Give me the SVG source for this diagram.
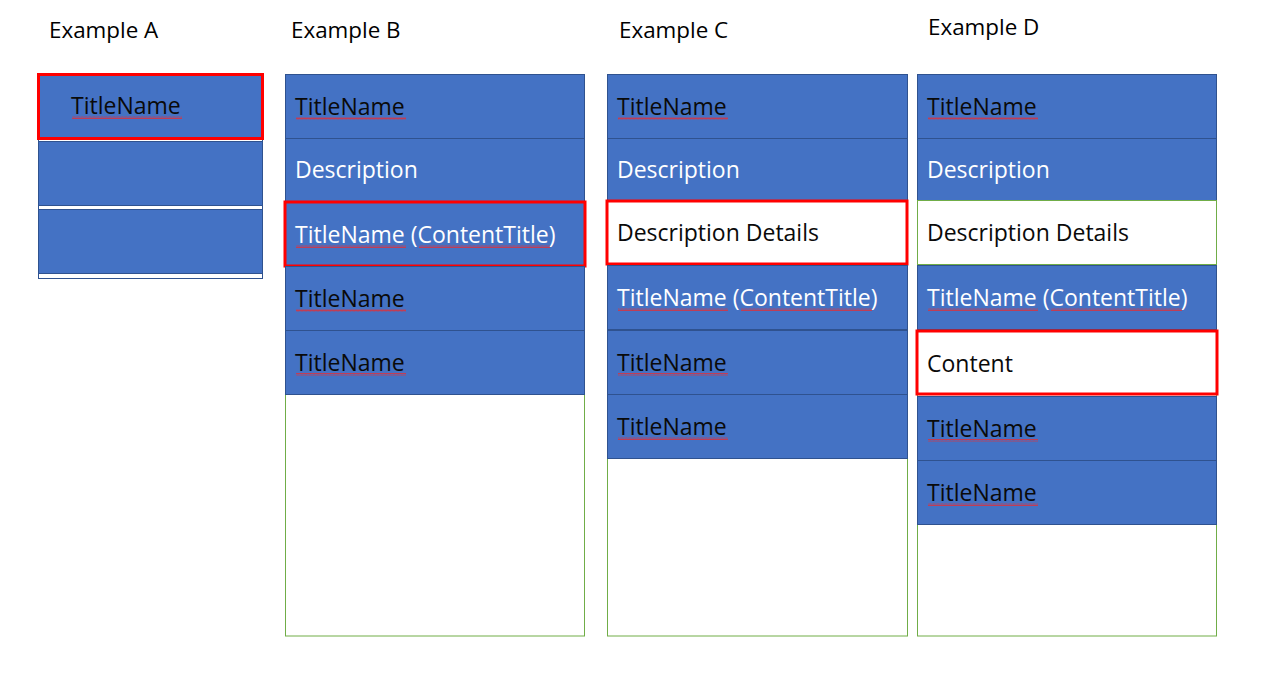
<svg xmlns="http://www.w3.org/2000/svg" width="1285" height="677" viewBox="0 0 1285 677">
<defs>
<pattern id="sq" width="4" height="3" patternUnits="userSpaceOnUse">
<polyline points="0,2.5 1,0.5 2,2.5 3,0.5 4,2.5" fill="none" stroke="#e0303a" stroke-width="0.8"/>
</pattern>
<style>
.bg{fill:#ffffff}
.lbl{font-family:"Open Sans","Liberation Sans",Arial,sans-serif;font-size:22.4px;fill:#000}
.t{font-family:"Open Sans","Liberation Sans",Arial,sans-serif;font-size:23px}
.dk{fill:#0a0a0a}
.wt{fill:#ffffff}
.row{fill:#4472C4;stroke:#2F528F;stroke-width:1}
.sel{fill:none;stroke:#FF0000;stroke-width:3}
.selw{fill:#ffffff;stroke:#FF0000;stroke-width:3}
.frame{fill:#ffffff;stroke:#70AD47;stroke-width:1}
.framea{fill:#ffffff;stroke:#2F528F;stroke-width:1}
.wrow{fill:#ffffff;stroke:#70AD47;stroke-width:1}
.sq{fill:url(#sq)}
</style>
</defs>
<rect class="bg" x="0" y="0" width="1285" height="677"/>

<g id="labels">
<text class="lbl" x="49" y="38">Example A</text>
<text class="lbl" x="291" y="38">Example B</text>
<text class="lbl" x="619" y="38">Example C</text>
<text class="lbl" x="928" y="35">Example D</text>
</g>

<g id="exampleA">
<rect class="framea" x="38.5" y="74.5" width="224" height="204"/>
<rect class="row" x="38.5" y="74.5" width="224" height="64"/>
<rect class="sel" x="38.5" y="74.5" width="224" height="64"/>
<text class="t dk" x="71" y="114">TitleName</text>
<rect class="sq" x="72" y="116" width="110" height="3"/>
<rect class="row" x="38.5" y="141.5" width="224" height="64"/>
<rect class="row" x="38.5" y="209.5" width="224" height="64"/>
</g>

<g id="exampleB">
<rect class="frame" x="285.5" y="74.5" width="299" height="561.5"/>
<rect class="row" x="285.5" y="74.5" width="299" height="64"/>
<text class="t dk" x="295" y="115">TitleName</text>
<rect class="sq" x="296" y="117" width="110" height="3"/>
<rect class="row" x="285.5" y="138.5" width="299" height="63"/>
<text class="t wt" x="295" y="178">Description</text>
<rect class="row" x="285.5" y="201.5" width="299" height="64"/>
<rect class="sel" x="285" y="202" width="300" height="64"/>
<text class="t wt" x="295" y="243">TitleName (ContentTitle)</text>
<rect class="sq" x="296" y="245" width="110" height="3"/>
<rect class="sq" x="419" y="245" width="131" height="3"/>
<rect class="row" x="285.5" y="266.5" width="299" height="64"/>
<text class="t dk" x="295" y="307">TitleName</text>
<rect class="sq" x="296" y="309" width="110" height="3"/>
<rect class="row" x="285.5" y="330.5" width="299" height="64"/>
<text class="t dk" x="295" y="371">TitleName</text>
<rect class="sq" x="296" y="373" width="110" height="3"/>
</g>

<g id="exampleC">
<rect class="frame" x="607.5" y="74.5" width="300" height="561.5"/>
<rect class="row" x="607.5" y="74.5" width="300" height="64"/>
<text class="t dk" x="617" y="115">TitleName</text>
<rect class="sq" x="618" y="117" width="110" height="3"/>
<rect class="row" x="607.5" y="138.5" width="300" height="62"/>
<text class="t wt" x="617" y="178">Description</text>
<rect class="selw" x="607" y="201" width="300" height="63"/>
<text class="t dk" x="617" y="241">Description Details</text>
<rect class="row" x="607.5" y="265.5" width="300" height="64"/>
<text class="t wt" x="617" y="306">TitleName (ContentTitle)</text>
<rect class="sq" x="618" y="308" width="110" height="3"/>
<rect class="sq" x="741" y="308" width="131" height="3"/>
<rect class="row" x="607.5" y="330.5" width="300" height="64"/>
<text class="t dk" x="617" y="371">TitleName</text>
<rect class="sq" x="618" y="373" width="110" height="3"/>
<rect class="row" x="607.5" y="394.5" width="300" height="64"/>
<text class="t dk" x="617" y="435">TitleName</text>
<rect class="sq" x="618" y="437" width="110" height="3"/>
</g>

<g id="exampleD">
<rect class="frame" x="917.5" y="74.5" width="299" height="561.5"/>
<rect class="row" x="917.5" y="74.5" width="299" height="64"/>
<text class="t dk" x="927" y="115">TitleName</text>
<rect class="sq" x="928" y="117" width="110" height="3"/>
<rect class="row" x="917.5" y="138.5" width="299" height="62"/>
<text class="t wt" x="927" y="178">Description</text>
<rect class="wrow" x="917.5" y="200.5" width="299" height="64"/>
<text class="t dk" x="927" y="241">Description Details</text>
<rect class="row" x="917.5" y="265.5" width="299" height="64"/>
<text class="t wt" x="927" y="306">TitleName (ContentTitle)</text>
<rect class="sq" x="928" y="308" width="110" height="3"/>
<rect class="sq" x="1051" y="308" width="131" height="3"/>
<rect class="selw" x="917" y="331" width="300" height="63"/>
<text class="t dk" x="927" y="372">Content</text>
<rect class="row" x="917.5" y="396.5" width="299" height="64"/>
<text class="t dk" x="927" y="437">TitleName</text>
<rect class="sq" x="928" y="439" width="110" height="3"/>
<rect class="row" x="917.5" y="460.5" width="299" height="64"/>
<text class="t dk" x="927" y="501">TitleName</text>
<rect class="sq" x="928" y="503" width="110" height="3"/>
</g>

<g id="connectors"></g>
</svg>
